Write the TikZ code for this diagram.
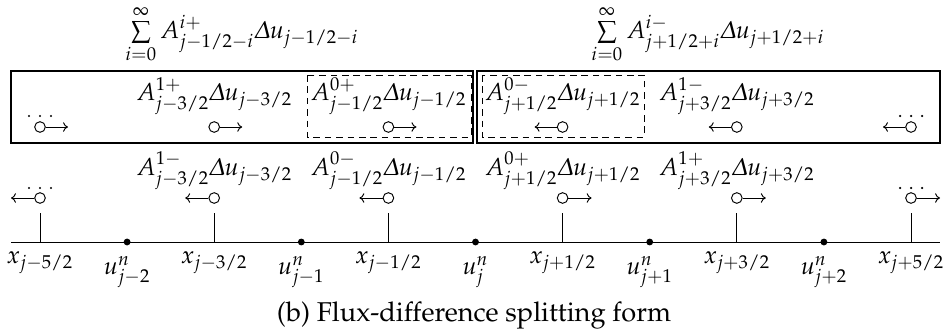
\documentclass[tikz,border=0pt]{standalone}
\usepackage[T1]{fontenc}
\usepackage[slantedGreek]{mathpazo}
\usetikzlibrary{arrows.meta}
\begin{document}
\begin{tikzpicture}[x=0.5263pt,y=-0.5263pt,
  lab/.style={inner sep=0pt, anchor=base, font=\fontsize{12.9pt}{15pt}\selectfont},
  caplab/.style={inner sep=0pt, anchor=base, font=\fontsize{14.3pt}{17pt}\selectfont},
  ocirc/.style={circle, draw, line width=0.5pt, inner sep=0pt, minimum size=5.6pt},
  fdot/.style={circle, fill, inner sep=0pt, minimum size=3.6pt},
  sdot/.style={circle, fill, inner sep=0pt, minimum size=1.3pt},
  arr/.style={-{To[length=2.6pt,width=5pt]}, line width=0.5pt},
  boxline/.style={line width=0.6pt},
  dbox/.style={line width=0.5pt, dash pattern=on 3.5pt off 2.5pt},
  thin/.style={line width=0.5pt}]
\useasboundingbox (0,0) rectangle (948,334);

% sums
\node[lab] (sumL) at (242,38.5) {$\sum\limits_{i=0}^{\infty} A^{i+}_{j-1/2-i}\Delta u_{j-1/2-i}$};
\node[lab] (sumR) at (708,38.5) {$\sum\limits_{i=0}^{\infty} A^{i-}_{j+1/2+i}\Delta u_{j+1/2+i}$};

% boxes
\draw[boxline] (11,71) rectangle (473,143);
\draw[boxline] (477,71) rectangle (940,143);
\draw[dbox] (307,75) rectangle (471,137);
\draw[dbox] (482,75) rectangle (644,137);

% box labels
\node[lab] (bl1) at (214.2,100.5) {$A^{1+}_{j-3/2}\Delta u_{j-3/2}$};
\node[lab] (bl2) at (388.4,100.5) {$A^{0+}_{j-1/2}\Delta u_{j-1/2}$};
\node[lab] (bl3) at (562.6,100.5) {$A^{0-}_{j+1/2}\Delta u_{j+1/2}$};
\node[lab] (bl4) at (736.8,100.5) {$A^{1-}_{j+3/2}\Delta u_{j+3/2}$};

% box circles
\node[ocirc] (bc0) at (40,127) {};
\node[ocirc] (bc1) at (214.2,127) {};
\node[ocirc] (bc2) at (388.4,127) {};
\node[ocirc] (bc3) at (562.6,127) {};
\node[ocirc] (bc4) at (736.8,127) {};
\node[ocirc] (bc5) at (911,127) {};
\coordinate (be0) at (68,127);
\coordinate (be1) at (242.2,127);
\coordinate (be2) at (416.4,127);
\coordinate (be3) at (534.6,127);
\coordinate (be4) at (708.8,127);
\coordinate (be5) at (883,127);
\draw[arr] (bc0) -- (be0);
\draw[arr] (bc1) -- (be1);
\draw[arr] (bc2) -- (be2);
\draw[arr] (bc3) -- (be3);
\draw[arr] (bc4) -- (be4);
\draw[arr] (bc5) -- (be5);
\node[sdot] at (29,116) {};
\node[sdot] at (40,116) {};
\node[sdot] at (51,116) {};
\node[sdot] at (900,116) {};
\node[sdot] at (911,116) {};
\node[sdot] at (922,116) {};

% lower labels
\node[lab] (ll1) at (214.2,175) {$A^{1-}_{j-3/2}\Delta u_{j-3/2}$};
\node[lab] (ll2) at (388.4,175) {$A^{0-}_{j-1/2}\Delta u_{j-1/2}$};
\node[lab] (ll3) at (562.6,175) {$A^{0+}_{j+1/2}\Delta u_{j+1/2}$};
\node[lab] (ll4) at (736.8,175) {$A^{1+}_{j+3/2}\Delta u_{j+3/2}$};

% lower circles
\node[ocirc] (lc0) at (40,198) {};
\node[ocirc] (lc1) at (214.2,198) {};
\node[ocirc] (lc2) at (388.4,198) {};
\node[ocirc] (lc3) at (562.6,198) {};
\node[ocirc] (lc4) at (736.8,198) {};
\node[ocirc] (lc5) at (911,198) {};
\coordinate (le0) at (11,198);
\coordinate (le1) at (185.2,198);
\coordinate (le2) at (359.4,198);
\coordinate (le3) at (591.6,198);
\coordinate (le4) at (765.8,198);
\coordinate (le5) at (940,198);
\draw[arr] (lc0) -- (le0);
\draw[arr] (lc1) -- (le1);
\draw[arr] (lc2) -- (le2);
\draw[arr] (lc3) -- (le3);
\draw[arr] (lc4) -- (le4);
\draw[arr] (lc5) -- (le5);
\node[sdot] at (29,188) {};
\node[sdot] at (40,188) {};
\node[sdot] at (51,188) {};
\node[sdot] at (900,188) {};
\node[sdot] at (911,188) {};
\node[sdot] at (922,188) {};

% axis
\coordinate (axL) at (11,242);
\coordinate (axR) at (940,242);
\draw[thin] (axL) -- (axR);
\foreach \k/\lbl in {0/{j-5/2},1/{j-3/2},2/{j-1/2},3/{j+1/2},4/{j+3/2},5/{j+5/2}}{
  \pgfmathsetmacro{\xx}{40+174.2*\k}
  \coordinate (t\k) at (\xx,213);
  \coordinate (b\k) at (\xx,242);
  \draw[thin] (t\k) -- (b\k);
  \node[lab] (xl\k) at (\xx,263) {$x_{\lbl}$};
}
\foreach \k/\lbl in {0/{j-2},1/{j-1},2/{j},3/{j+1},4/{j+2}}{
  \pgfmathsetmacro{\xx}{127.1+174.2*\k}
  \node[fdot] (u\k) at (\xx,242) {};
  \node[lab] (ul\k) at (\xx,274) {$u^{n}_{\lbl}$};
}

% caption
\node[caplab] (cap) at (474,321) {(b) Flux-difference splitting form};
\end{tikzpicture}
\end{document}
